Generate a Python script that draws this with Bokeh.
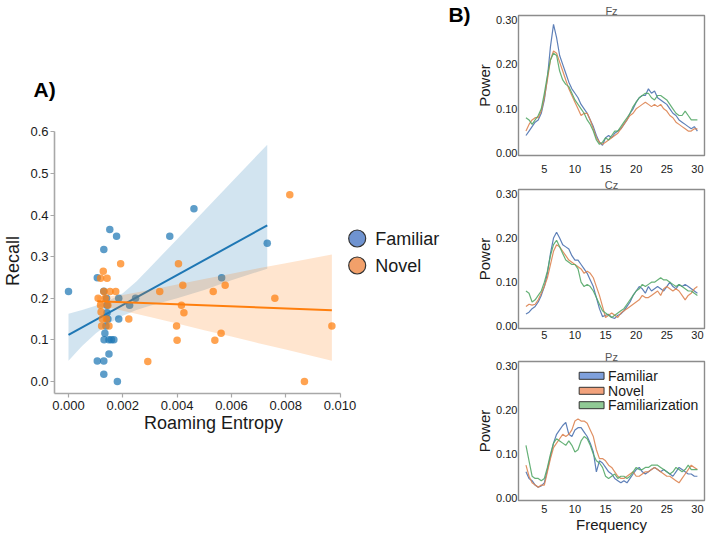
from bokeh.plotting import figure
from bokeh.models import Range1d, Title, NumeralTickFormatter, FixedTicker
from bokeh.layouts import row, column
from bokeh.embed import file_html
from bokeh.resources import INLINE
from bokeh.core.properties import value

FONT = "Liberation Sans"

# ---------------- Panel A: roaming entropy vs. recall ----------------
fam_entropy = [0.0, 0.00152, 0.00177, 0.00130, 0.00106, 0.00130, 0.00185, 0.00247,
               0.00225, 0.00142, 0.00142, 0.00185, 0.00145, 0.00134, 0.00131, 0.00149,
               0.00158, 0.00167, 0.00149, 0.00106, 0.00130, 0.00130, 0.00180, 0.00462,
               0.00373, 0.00732, 0.00564, 0.00140, 0.00138]
fam_recall = [0.216, 0.365, 0.349, 0.317, 0.249, 0.217, 0.200, 0.200,
              0.183, 0.183, 0.165, 0.150, 0.150, 0.116, 0.100, 0.100,
              0.100, 0.100, 0.066, 0.049, 0.049, 0.017, 0.000, 0.415,
              0.349, 0.332, 0.249, 0.200, 0.133]

nov_entropy = [0.00815, 0.00405, 0.00336, 0.00421, 0.00533, 0.00577, 0.00760, 0.00416,
               0.00425, 0.00398, 0.00970, 0.00400, 0.00539, 0.00562, 0.00292, 0.00869,
               0.00222, 0.00192, 0.00128, 0.00118, 0.00142, 0.00130, 0.00153, 0.00174,
               0.00109, 0.00135, 0.00118, 0.00145, 0.00120, 0.00125, 0.00140, 0.00122,
               0.00149]
nov_recall = [0.449, 0.283, 0.216, 0.231, 0.216, 0.231, 0.200, 0.183,
              0.165, 0.133, 0.133, 0.099, 0.099, 0.116, 0.048, 0.000,
              0.150, 0.283, 0.265, 0.248, 0.248, 0.216, 0.216, 0.216,
              0.200, 0.200, 0.183, 0.183, 0.167, 0.150, 0.150, 0.133,
              0.133]

# regression lines and their confidence bands
fam_fit_x = [0.0, 0.00732]
fam_fit_y = [0.112, 0.375]
nov_fit_x = [0.00106, 0.0097]
nov_fit_y = [0.193, 0.171]

fam_band_x = [0.0, 0.0005, 0.001, 0.0015, 0.002, 0.0025, 0.003, 0.004, 0.005, 0.006, 0.00732]
fam_band_lo = [0.050, 0.085, 0.115, 0.140, 0.158, 0.172, 0.182, 0.200, 0.220, 0.243, 0.271]
fam_band_hi = [0.163, 0.172, 0.182, 0.195, 0.212, 0.240, 0.274, 0.342, 0.410, 0.479, 0.569]

nov_band_x = [0.00106, 0.0015, 0.002, 0.003, 0.004, 0.005, 0.006, 0.007, 0.008, 0.0097]
nov_band_lo = [0.180, 0.178, 0.170, 0.155, 0.139, 0.123, 0.108, 0.092, 0.077, 0.050]
nov_band_hi = [0.205, 0.205, 0.208, 0.220, 0.233, 0.246, 0.259, 0.272, 0.284, 0.305]

entropy_ticks = [0.0, 0.002, 0.004, 0.006, 0.008, 0.010]
recall_ticks = [0.0, 0.1, 0.2, 0.3, 0.4, 0.5, 0.6]
group_names = ["Familiar", "Novel"]
panel_letters = ["A)", "B)"]

# ---------------- Panel B: power spectra ----------------
freqs = [2.0, 2.5, 3.0, 3.5, 4.0, 4.5, 5.0, 5.5, 6.0, 6.5,
         7.0, 7.5, 8.0, 8.5, 9.0, 9.5, 10.0, 10.5, 11.0, 11.5,
         12.0, 12.5, 13.0, 13.5, 14.0, 14.5, 15.0, 15.5, 16.0, 16.5,
         17.0, 17.5, 18.0, 18.5, 19.0, 19.5, 20.0, 20.5, 21.0, 21.5,
         22.0, 22.5, 23.0, 23.5, 24.0, 24.5, 25.0, 25.5, 26.0, 26.5,
         27.0, 27.5, 28.0, 28.5, 29.0, 29.5, 30.0]

fz_familiar = [0.040, 0.050, 0.060, 0.070, 0.075, 0.090, 0.120, 0.170, 0.240, 0.290,
               0.260, 0.220, 0.200, 0.180, 0.160, 0.145, 0.135, 0.125, 0.110, 0.100,
               0.090, 0.075, 0.060, 0.040, 0.025, 0.018, 0.035, 0.040, 0.035, 0.045,
               0.050, 0.055, 0.065, 0.075, 0.090, 0.100, 0.115, 0.125, 0.130, 0.130,
               0.145, 0.135, 0.140, 0.125, 0.120, 0.115, 0.110, 0.100, 0.090, 0.085,
               0.075, 0.070, 0.065, 0.060, 0.055, 0.060, 0.050]
fz_novel = [0.050, 0.065, 0.075, 0.080, 0.080, 0.095, 0.125, 0.165, 0.210, 0.230,
            0.225, 0.205, 0.185, 0.165, 0.145, 0.130, 0.115, 0.100, 0.085, 0.090,
            0.090, 0.075, 0.055, 0.035, 0.025, 0.020, 0.025, 0.030, 0.035, 0.040,
            0.045, 0.055, 0.065, 0.075, 0.085, 0.090, 0.100, 0.105, 0.110, 0.115,
            0.110, 0.105, 0.110, 0.105, 0.110, 0.100, 0.095, 0.085, 0.080, 0.070,
            0.065, 0.060, 0.055, 0.050, 0.050, 0.055, 0.055]
fz_familiarization = [0.080, 0.075, 0.065, 0.075, 0.085, 0.100, 0.135, 0.175, 0.210, 0.225,
                      0.220, 0.185, 0.165, 0.155, 0.150, 0.135, 0.120, 0.110, 0.100, 0.090,
                      0.075, 0.065, 0.050, 0.030, 0.020, 0.025, 0.035, 0.030, 0.040, 0.050,
                      0.050, 0.060, 0.070, 0.080, 0.090, 0.105, 0.115, 0.125, 0.130, 0.135,
                      0.135, 0.125, 0.120, 0.130, 0.130, 0.125, 0.120, 0.110, 0.100, 0.090,
                      0.085, 0.085, 0.095, 0.085, 0.075, 0.075, 0.075]

cz_familiar = [0.028, 0.032, 0.040, 0.045, 0.055, 0.070, 0.090, 0.120, 0.165, 0.200,
               0.213, 0.200, 0.185, 0.180, 0.175, 0.160, 0.150, 0.150, 0.140, 0.130,
               0.120, 0.105, 0.090, 0.065, 0.040, 0.022, 0.025, 0.027, 0.020, 0.018,
               0.025, 0.028, 0.035, 0.045, 0.055, 0.070, 0.080, 0.090, 0.085, 0.075,
               0.090, 0.080, 0.085, 0.090, 0.085, 0.080, 0.090, 0.100, 0.090, 0.085,
               0.095, 0.090, 0.095, 0.090, 0.085, 0.080, 0.075]
cz_novel = [0.045, 0.050, 0.048, 0.050, 0.060, 0.075, 0.090, 0.110, 0.140, 0.170,
            0.185, 0.180, 0.170, 0.160, 0.150, 0.145, 0.140, 0.135, 0.130, 0.120,
            0.125, 0.120, 0.110, 0.090, 0.070, 0.045, 0.020, 0.025, 0.030, 0.025,
            0.020, 0.030, 0.035, 0.040, 0.045, 0.050, 0.055, 0.060, 0.070, 0.065,
            0.065, 0.070, 0.075, 0.080, 0.070, 0.085, 0.090, 0.085, 0.080, 0.085,
            0.080, 0.070, 0.060, 0.070, 0.075, 0.085, 0.090]
cz_familiarization = [0.080, 0.075, 0.055, 0.060, 0.070, 0.080, 0.100, 0.125, 0.160, 0.185,
                      0.195, 0.180, 0.165, 0.150, 0.145, 0.140, 0.140, 0.130, 0.100, 0.090,
                      0.095, 0.090, 0.080, 0.065, 0.050, 0.035, 0.030, 0.025, 0.020, 0.025,
                      0.030, 0.035, 0.040, 0.050, 0.060, 0.070, 0.080, 0.085, 0.095, 0.090,
                      0.095, 0.100, 0.100, 0.105, 0.110, 0.105, 0.105, 0.100, 0.095, 0.090,
                      0.095, 0.090, 0.085, 0.080, 0.080, 0.075, 0.070]

pz_familiar = [0.060, 0.045, 0.040, 0.030, 0.025, 0.028, 0.035, 0.065, 0.095, 0.125,
               0.145, 0.155, 0.165, 0.172, 0.145, 0.140, 0.155, 0.160, 0.160, 0.150,
               0.140, 0.125, 0.105, 0.060, 0.085, 0.080, 0.070, 0.060, 0.055, 0.045,
               0.040, 0.035, 0.040, 0.035, 0.045, 0.055, 0.065, 0.070, 0.060, 0.055,
               0.060, 0.065, 0.070, 0.065, 0.060, 0.065, 0.060, 0.055, 0.050, 0.060,
               0.070, 0.065, 0.060, 0.055, 0.055, 0.050, 0.050]
pz_novel = [0.075, 0.050, 0.035, 0.030, 0.025, 0.030, 0.030, 0.060, 0.090, 0.115,
            0.125, 0.135, 0.145, 0.140, 0.145, 0.155, 0.175, 0.180, 0.175, 0.175,
            0.170, 0.155, 0.140, 0.110, 0.090, 0.090, 0.085, 0.075, 0.070, 0.060,
            0.050, 0.045, 0.045, 0.050, 0.055, 0.060, 0.050, 0.050, 0.055, 0.060,
            0.060, 0.065, 0.070, 0.065, 0.060, 0.055, 0.050, 0.050, 0.045, 0.040,
            0.035, 0.045, 0.055, 0.065, 0.075, 0.070, 0.065]
pz_familiarization = [0.120, 0.085, 0.050, 0.045, 0.045, 0.040, 0.045, 0.070, 0.100, 0.125,
                      0.135, 0.130, 0.125, 0.120, 0.130, 0.120, 0.105, 0.110, 0.130, 0.140,
                      0.135, 0.120, 0.100, 0.085, 0.080, 0.070, 0.050, 0.045, 0.050, 0.055,
                      0.045, 0.050, 0.050, 0.045, 0.050, 0.060, 0.070, 0.065, 0.065, 0.070,
                      0.070, 0.075, 0.075, 0.075, 0.070, 0.065, 0.060, 0.055, 0.060, 0.070,
                      0.065, 0.060, 0.065, 0.075, 0.065, 0.065, 0.065]

freq_ticks = [5, 10, 15, 20, 25, 30]
power_ticks = [0.0, 0.1, 0.2, 0.3]
condition_names = ["Familiar", "Novel", "Familiarization"]

# colours
FAM_C, NOV_C = "#1f77b4", "#ff7f0e"
SPEC_C = ["#4c72b0", "#dd8452", "#55a868"]
SPEC_PATCH = ["#7fa0dc", "#f2a27c", "#90c995"]
AXIS_GREY = "#a8a8a8"
TEXT_C = "#1a1a1a"


def add_pixel_ranges(fig, frame_w, frame_h):
    """Extra ranges that address the frame in pixels, y running downwards."""
    fig.extra_x_ranges = {"px": Range1d(0, frame_w)}
    fig.extra_y_ranges = {"py": Range1d(frame_h, 0)}


LEFT_W = 473
A_L, A_R = 54, 1          # left column frame spans x = 54 .. 472

# ================= strip with the panel letters =================
# its frame lines up with the scatter frame below it, so x is in page pixels
STRIP_H, STRIP_B = 110, 40
strip = figure(width=LEFT_W, height=STRIP_H, x_range=Range1d(A_L, LEFT_W - A_R),
               y_range=Range1d(STRIP_H - STRIP_B, 0), output_backend="svg",
               toolbar_location=None, x_axis_type=None, y_axis_type=None,
               min_border_left=A_L, min_border_right=A_R, min_border_top=0,
               min_border_bottom=STRIP_B, title=panel_letters[0],
               title_location="below")
strip.grid.visible = False
strip.outline_line_color = None
strip.title.align = "left"
strip.title.offset = -21
strip.title.standoff = 14
strip.title.vertical_align = "top"
strip.title.text_font = FONT
strip.title.text_font_size = "21px"
strip.title.text_font_style = "bold"
strip.title.text_color = "#000000"
strip.text(x=[459], y=[14], text=[panel_letters[1]], text_font=value(FONT),
           text_font_style="bold", text_font_size="21px", text_align="center",
           text_baseline="middle", text_color="#000000")

# ================= scatter figure =================
A_H = 536 - STRIP_H
A_T, A_B = 18, 143
x_lo = -0.000516
x_hi = x_lo + (LEFT_W - A_L - A_R) / 27150.0
pa = figure(width=LEFT_W, height=A_H, x_range=Range1d(x_lo, x_hi),
            y_range=Range1d(-0.029, 0.608), output_backend="svg",
            toolbar_location=None, min_border_left=A_L, min_border_right=A_R,
            min_border_top=A_T, min_border_bottom=A_B)
pa.grid.visible = False
pa.outline_line_color = None

pa.scatter(fam_entropy, fam_recall, size=7.5, fill_color=FAM_C, fill_alpha=0.72,
           line_color=None)
pa.varea(x=fam_band_x, y1=fam_band_lo, y2=fam_band_hi, fill_color=FAM_C, fill_alpha=0.2)
pa.line(fam_fit_x, fam_fit_y, line_color=FAM_C, line_width=2)

pa.scatter(nov_entropy, nov_recall, size=7.5, fill_color=NOV_C, fill_alpha=0.72,
           line_color=None)
pa.varea(x=nov_band_x, y1=nov_band_lo, y2=nov_band_hi, fill_color=NOV_C, fill_alpha=0.2)
pa.line(nov_fit_x, nov_fit_y, line_color=NOV_C, line_width=2)

pa.xaxis.ticker = FixedTicker(ticks=entropy_ticks)
pa.xaxis.formatter = NumeralTickFormatter(format="0.000")
pa.yaxis.ticker = FixedTicker(ticks=recall_ticks)
pa.yaxis.formatter = NumeralTickFormatter(format="0.0")
pa.yaxis.axis_label = "Recall"
pa.xaxis.bounds = (x_lo, 0.010)
pa.yaxis.bounds = (-0.029, 0.6)
for ax in (pa.xaxis[0], pa.yaxis[0]):
    ax.axis_line_color = AXIS_GREY
    ax.axis_line_width = 1.6
    ax.major_tick_line_color = AXIS_GREY
    ax.major_tick_line_width = 1.2
    ax.major_tick_out = 4
    ax.major_tick_in = 0
    ax.minor_tick_line_color = None
    ax.minor_tick_out = 0
    ax.minor_tick_in = 0
    ax.major_label_text_font = FONT
    ax.major_label_text_font_size = "13px"
    ax.major_label_text_color = TEXT_C
    ax.axis_label_text_font = FONT
    ax.axis_label_text_font_size = "18px"
    ax.axis_label_text_font_style = "normal"
    ax.axis_label_text_color = TEXT_C
pa.xaxis.major_label_standoff = 3
pa.yaxis.major_label_standoff = 2
pa.yaxis.axis_label_standoff = 4

# x label centred under the drawn axis span rather than the whole frame
xlab = Title(text="Roaming Entropy", align="left", offset=89.5, standoff=0,
             vertical_align="top", text_font=FONT, text_font_size="18px",
             text_font_style="normal", text_color=TEXT_C)
pa.add_layout(xlab, "below")

# legend, drawn in frame pixel coordinates
fw, fh = LEFT_W - A_L - A_R, A_H - A_T - A_B
add_pixel_ranges(pa, fw, fh)
leg_x, leg_y0, leg_dy = 302.7, 110, 27
leg_ys = [leg_y0, leg_y0 + leg_dy]
pa.scatter(x=[leg_x, leg_x], y=leg_ys, x_range_name="px", y_range_name="py",
           size=17, fill_color=["#6f93d0", "#f2a06a"], line_color="#333333",
           line_width=1.2)
pa.text(x=[leg_x + 18, leg_x + 18], y=leg_ys, text=group_names,
        x_range_name="px", y_range_name="py", text_font=value(FONT),
        text_font_size="18px", text_baseline="middle", text_align="left",
        text_color=TEXT_C)


# ================= right column =================
R_W, R_L, R_R = 709 - LEFT_W, 44, 5


def spectrum_panel(name, series, height, top, bottom, x_standoff, xlabel=None,
                   legend=False):
    f = figure(width=R_W, height=height, x_range=Range1d(0.78, 31.16),
               y_range=Range1d(-0.005, 0.31), output_backend="svg",
               toolbar_location=None, min_border_left=R_L, min_border_right=R_R,
               min_border_top=top, min_border_bottom=bottom, title=name)
    f.title.align = "center"
    f.title.text_font = FONT
    f.title.text_font_size = "11px"
    f.title.text_font_style = "normal"
    f.title.text_color = "#555555"
    f.title.standoff = -3
    f.grid.visible = False
    f.outline_line_color = "#8c8c8c"
    f.outline_line_width = 1.4
    for vals, col in zip(series, SPEC_C):
        f.line(freqs, vals, line_color=col, line_width=1.2, line_alpha=0.9)
    f.xaxis.ticker = FixedTicker(ticks=freq_ticks)
    f.yaxis.ticker = FixedTicker(ticks=power_ticks)
    f.yaxis.formatter = NumeralTickFormatter(format="0.00")
    f.yaxis.axis_label = "Power"
    if xlabel:
        f.xaxis.axis_label = xlabel
    for ax in (f.xaxis[0], f.yaxis[0]):
        ax.axis_line_color = None
        ax.major_tick_line_color = None
        ax.minor_tick_line_color = None
        ax.major_tick_out = 0
        ax.major_tick_in = 0
        ax.minor_tick_out = 0
        ax.minor_tick_in = 0
        ax.major_label_text_font = FONT
        ax.major_label_text_font_size = "11px"
        ax.major_label_text_color = TEXT_C
        ax.axis_label_text_font = FONT
        ax.axis_label_text_font_size = "15px"
        ax.axis_label_text_font_style = "normal"
        ax.axis_label_text_color = TEXT_C
        ax.axis_label_standoff = 0
    f.xaxis.major_label_standoff = x_standoff
    f.yaxis.major_label_standoff = 1
    if legend:
        add_pixel_ranges(f, R_W - R_L - R_R, height - top - bottom)
        rows_y = [14.3, 29.3, 43.7]
        f.quad(left=[61] * 3, right=[86] * 3, top=[y - 3.5 for y in rows_y],
               bottom=[y + 3.5 for y in rows_y], x_range_name="px",
               y_range_name="py", fill_color=SPEC_PATCH, line_color="#333333",
               line_width=1)
        f.text(x=[90] * 3, y=rows_y, text=condition_names, x_range_name="px",
               y_range_name="py", text_font=value(FONT), text_font_size="14px",
               text_baseline="middle", text_align="left", text_color=TEXT_C)
    return f


fz = spectrum_panel("Fz", [fz_familiar, fz_novel, fz_familiarization], 177, 15, 22, 9)
cz = spectrum_panel("Cz", [cz_familiar, cz_novel, cz_familiarization], 166, 12, 15, 2)
pz = spectrum_panel("Pz", [pz_familiar, pz_novel, pz_familiarization], 193, 18, 36, 4,
                    xlabel="Frequency", legend=True)

layout = row(column(strip, pa), column(fz, cz, pz))
open("out.html", "w").write(file_html(layout, INLINE))
